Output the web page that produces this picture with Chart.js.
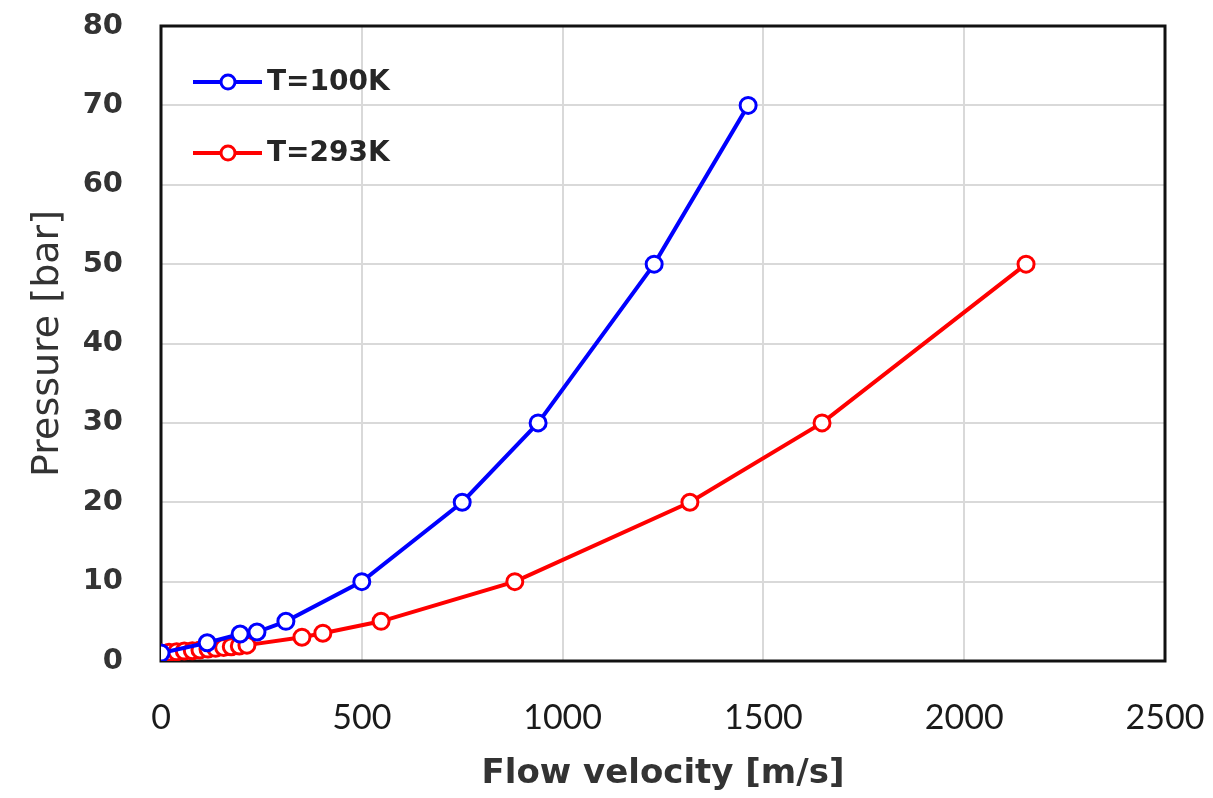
<!DOCTYPE html>
<html>
<head>
<meta charset="utf-8">
<script src="https://cdn.jsdelivr.net/npm/chart.js@4"></script>
<style>
  html, body { margin: 0; padding: 0; background: #fff; }
  #wrap { width: 1213px; height: 798px; }
</style>
</head>
<body>
<div id="wrap"><canvas id="pressureChart" width="1213" height="798"></canvas></div>
<script>
// values
const labels100 = 'T=100K';
const velocity100 = [0, 115, 197, 239, 311, 500, 750, 939, 1228, 1462];
const pressure100 = [1, 2.3, 3.4, 3.65, 5, 10, 20, 30, 50, 70];

const labels293 = 'T=293K';
const velocity293 = [0, 20, 39, 58, 78, 97, 117, 136, 156, 175, 195, 214, 351, 403, 548, 881, 1317, 1646, 2154];
const pressure293 = [1, 1.1, 1.15, 1.25, 1.3, 1.4, 1.5, 1.6, 1.7, 1.8, 1.9, 2.0, 3, 3.5, 5, 10, 20, 30, 50];

const xTicks = [0, 500, 1000, 1500, 2000, 2500];
const yTicks = [0, 10, 20, 30, 40, 50, 60, 70, 80];

const toPoints = (xs, ys) => xs.map((x, i) => ({ x: x, y: ys[i] }));

// black frame round the plot area, drawn under the lines
const framePlugin = {
  id: 'frame',
  beforeDatasetsDraw(chart) {
    const { ctx, chartArea: a } = chart;
    ctx.save();
    ctx.strokeStyle = '#111';
    ctx.lineWidth = 3;
    ctx.strokeRect(a.left, a.top, a.right - a.left, a.bottom - a.top);
    ctx.restore();
  }
};

// legend inside the plot, line + open circle sample
const insideLegend = {
  id: 'insideLegend',
  afterDatasetsDraw(chart) {
    const { ctx, chartArea: a } = chart;
    ctx.save();
    chart.data.datasets.forEach((ds, i) => {
      const y = a.top + 56 + i * 71;
      const x0 = a.left + 32;
      ctx.strokeStyle = ds.borderColor;
      ctx.lineWidth = 4;
      ctx.beginPath();
      ctx.moveTo(x0, y);
      ctx.lineTo(x0 + 69, y);
      ctx.stroke();
      ctx.beginPath();
      ctx.arc(x0 + 35, y, 7, 0, Math.PI * 2);
      ctx.fillStyle = '#fff';
      ctx.fill();
      ctx.lineWidth = 3;
      ctx.stroke();
      ctx.fillStyle = '#262626';
      ctx.font = 'bold 28px "DejaVu Sans"';
      ctx.textBaseline = 'middle';
      ctx.fillText(ds.label, x0 + 74, y + 1);
    });
    ctx.restore();
  }
};

new Chart(document.getElementById('pressureChart').getContext('2d'), {
  type: 'scatter',
  data: {
    datasets: [{
      label: labels100,
      data: toPoints(velocity100, pressure100),
      showLine: true,
      borderColor: '#0000ff',
      backgroundColor: '#ffffff',
      borderWidth: 4,
      pointRadius: 8,
      pointBorderWidth: 3,
      tension: 0
    }, {
      label: labels293,
      data: toPoints(velocity293, pressure293),
      showLine: true,
      borderColor: '#ff0000',
      backgroundColor: '#ffffff',
      borderWidth: 4,
      pointRadius: 8,
      pointBorderWidth: 3,
      tension: 0
    }]
  },
  options: {
    responsive: false,
    animation: false,
    layout: { padding: { left: 0, right: 48, top: 26, bottom: 0 } },
    plugins: {
      legend: { display: false },
      tooltip: { enabled: false }
    },
    scales: {
      x: {
        type: 'linear',
        min: 0, max: 2500,
        afterBuildTicks(s) { s.ticks = xTicks.map(v => ({ value: v })); },
        afterFit(s) { s.height = 137; s.paddingLeft = 0; s.paddingRight = 0; },
        grid: { color: '#d9d9d9', lineWidth: 2, drawTicks: false },
        border: { display: false },
        ticks: {
          padding: 37,
          color: '#1a1a1a',
          font: { family: 'Lato', size: 34 },
          maxRotation: 0,
          callback: v => String(v)
        },
        title: {
          display: true,
          text: 'Flow velocity [m/s]',
          color: '#333',
          font: { family: '"DejaVu Sans"', size: 34, weight: 'bold' },
          padding: { top: 0, bottom: 3 }
        }
      },
      y: {
        min: 0, max: 80,
        afterBuildTicks(s) { s.ticks = yTicks.map(v => ({ value: v })); },
        afterFit(s) { s.width = 161; s.paddingTop = 0; s.paddingBottom = 0; },
        grid: { color: '#d9d9d9', lineWidth: 2, drawTicks: false },
        border: { display: false },
        ticks: {
          padding: 38,
          color: '#333',
          font: { family: '"DejaVu Sans"', size: 29, weight: 'bold' }
        },
        title: {
          display: true,
          text: 'Pressure [bar]',
          color: '#333',
          font: { family: '"DejaVu Sans"', size: 38 },
          padding: { top: 25, bottom: 0 }
        }
      }
    }
  },
  plugins: [framePlugin, insideLegend]
});
</script>
</body>
</html>
